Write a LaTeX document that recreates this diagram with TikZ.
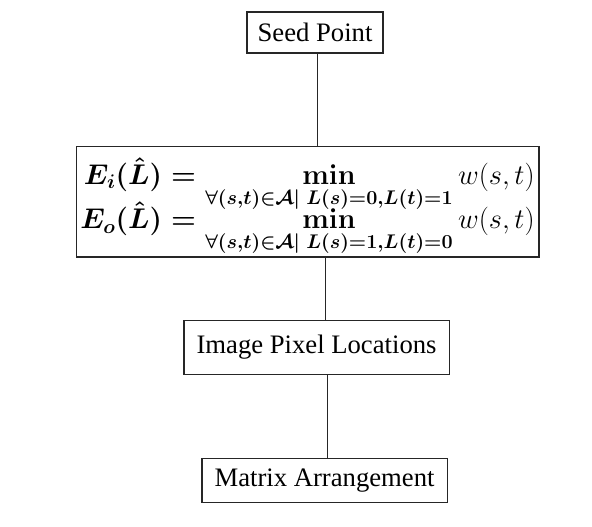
\documentclass[tikz,border=0pt]{standalone}
\usepackage{amsmath}
\usepackage{amssymb}
\usepackage{bm}
\usepackage{graphicx}
\usepackage[no-math]{fontspec}
\setmainfont{Liberation Serif}
\usepackage{tikz}
\usetikzlibrary{positioning}
\tikzset{box/.style={draw=black!85, line width=1pt, inner sep=2pt, font=\fontsize{20}{24}\selectfont}}
\tikzset{link/.style={draw=black!85, line width=0.9pt}}
\newcommand{\wst}{\text{\unboldmath$w(s,t)$}}

\begin{document}
\begin{tikzpicture}[x=0.75pt, y=-0.75pt, node distance=1cm]
\useasboundingbox (0,0) rectangle (592,527);
\node[box, minimum width=102pt, minimum height=30.75pt] (seed) at (315,32.5) {Seed Point};
\node[box, minimum width=347pt, minimum height=83pt, below=69pt of seed, xshift=-5.6pt,
      font=\fontsize{20.74}{25}\selectfont\boldmath] (energy)
  {\raisebox{-4pt}[\height][\depth]{\scalebox{1.03}{$\displaystyle\begin{aligned}
  E_i(\hat{L}) &= \min_{\forall(s,t)\in\mathcal{A}\mid\; L(s)=0,L(t)=1} \wst\\[-11pt]
  E_o(\hat{L}) &= \min_{\forall(s,t)\in\mathcal{A}\mid\; L(s)=1,L(t)=0} \wst
  \end{aligned}$}}};
\node[box, minimum width=199pt, minimum height=40.5pt, below=46.5pt of energy, xshift=6.75pt] (pixels) {Image Pixel Locations};
\node[box, minimum width=184pt, minimum height=33pt, below=62.25pt of pixels, xshift=6pt] (arrange) {Matrix Arrangement};
%
\draw[link] ([xshift=2pt]seed.south) -- ([xshift=2pt]seed.south |- energy.north);
\draw[link] ([xshift=7pt]pixels.north |- energy.south) -- ([xshift=7pt]pixels.north);
\draw[link] ([xshift=2pt]arrange.north |- pixels.south) -- ([xshift=2pt]arrange.north);
\end{tikzpicture}
\end{document}
